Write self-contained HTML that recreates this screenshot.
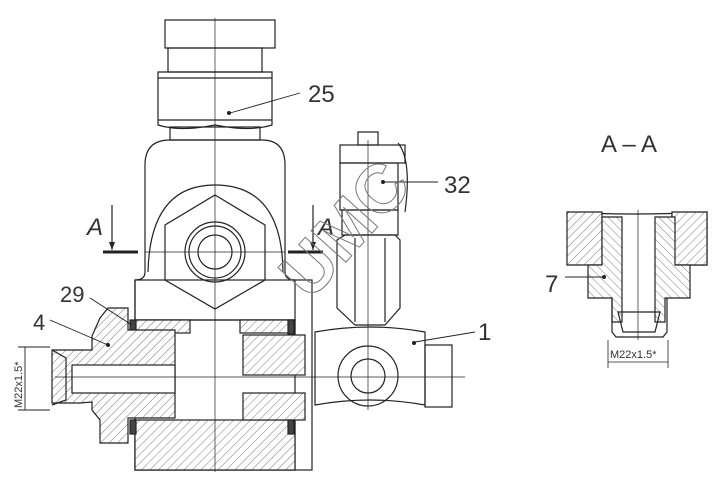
<!DOCTYPE html>
<html><head><meta charset="utf-8"><style>
html,body{margin:0;padding:0;background:#fff;width:724px;height:489px;overflow:hidden}
svg{display:block}
text{font-family:"Liberation Sans",sans-serif}
</style></head><body>
<svg width="724" height="489" viewBox="0 0 724 489" xmlns="http://www.w3.org/2000/svg">
<defs>
<pattern id="h" width="6" height="6" patternUnits="userSpaceOnUse" patternTransform="rotate(45)">
<rect width="6" height="6" fill="#fff"/><line x1="0" y1="0" x2="0" y2="6" stroke="#555" stroke-width="0.8"/></pattern>
<pattern id="h2" width="6" height="6" patternUnits="userSpaceOnUse" patternTransform="rotate(-45)">
<rect width="6" height="6" fill="#fff"/><line x1="0" y1="0" x2="0" y2="6" stroke="#555" stroke-width="0.8"/></pattern>
</defs>
<g fill="none" stroke="#222" stroke-width="1.2">
<rect x="165" y="20" width="110" height="28"/>
<rect x="168" y="48" width="94" height="24"/>
<path d="M158 72 H272 V125 Q250 132 215 125 Q180 132 158 125 Z"/>
<line x1="158" y1="78" x2="272" y2="78"/><line x1="158" y1="120" x2="272" y2="120"/>
<rect x="170" y="127" width="90" height="13"/>
<path d="M145 272 V165 Q145 140 170 140 H262 Q285 140 285 165 V272 Q285 280 295 280 V320 H135 V280 Q145 280 145 272 Z"/>
<path d="M148 272 Q150 185 215 185 Q282 185 283 272"/>
<polygon points="215,195 265,225 265,280 215,309 165,280 165,225"/>
<circle cx="215" cy="252" r="30"/><circle cx="215" cy="252" r="26"/><circle cx="215" cy="252" r="17"/>
<rect x="135" y="280" width="177" height="190"/>
<rect x="135" y="320" width="160" height="150"/>
<rect x="135" y="420" width="160" height="50" fill="url(#h)"/>
<rect x="135" y="320" width="55" height="13" fill="url(#h)"/>
<rect x="240" y="320" width="55" height="13" fill="url(#h)"/>
<rect x="243" y="335" width="62" height="40" fill="url(#h)"/>
<rect x="243" y="393" width="62" height="27" fill="url(#h)"/>
<rect x="130" y="320" width="6" height="14" fill="#444"/>
<rect x="288" y="320" width="6" height="14" fill="#444"/>
<rect x="130" y="420" width="6" height="14" fill="#444"/>
<rect x="288" y="420" width="6" height="14" fill="#444"/>
<path d="M100 318 L108 308 H128 V330 H175 V418 H128 V443 H100 V420 L92 410 V402 L80 403 H52 V350 H80 L92 350 V336 Z" fill="url(#h)"/>
<rect x="72" y="365" width="103" height="28" fill="#fff"/>
<path d="M52 350 L66 358 V400 L52 405"/>
<path d="M315 332 Q370 322 425 332 V405 Q370 395 315 405 Z" fill="#fff"/>
<circle cx="368" cy="376" r="30"/><circle cx="368" cy="376" r="17"/>
<rect x="425" y="345" width="27" height="62"/>
<rect x="358" y="132" width="20" height="13"/>
<rect x="340" y="145" width="65" height="18"/>
<rect x="340" y="163" width="58" height="47"/>
<rect x="342" y="210" width="56" height="25"/>
<path d="M337 240 L345 235 H395 L400 240 V308 L385 325 H355 L337 308 Z"/>
<line x1="355" y1="238" x2="355" y2="322"/><line x1="385" y1="238" x2="385" y2="322"/>
<path d="M398 143 Q412 160 405 212"/>
<g stroke-width="0.7"><line x1="215" y1="18" x2="215" y2="472"/><line x1="145" y1="252" x2="285" y2="252"/>
<line x1="55" y1="377" x2="465" y2="377"/><line x1="368" y1="140" x2="368" y2="410"/></g>
<line x1="103" y1="252" x2="138" y2="252" stroke-width="3"/><line x1="288" y1="252" x2="323" y2="252" stroke-width="3"/>
<line x1="112" y1="205" x2="112" y2="250"/><line x1="313" y1="205" x2="313" y2="250"/>
<g stroke-width="0.9"><line x1="230" y1="113" x2="300" y2="93"/><line x1="383" y1="182" x2="438" y2="182"/>
<line x1="415" y1="342" x2="475" y2="332"/><line x1="132" y1="325" x2="90" y2="298"/><line x1="108" y1="345" x2="50" y2="320"/>
<line x1="25" y1="347" x2="25" y2="410"/><line x1="18" y1="347" x2="50" y2="347"/><line x1="18" y1="410" x2="50" y2="410"/></g>
<path d="M567 212 Q630 216 707 212 V265 H672 V212" />
<path d="M567 212 H602 V265 H567 Z" fill="url(#h)"/>
<path d="M672 212 H707 V265 H672 Z" fill="url(#h)"/>
<path d="M588 265 H602 V217 H622 V322 H612 V298 H588 Z" fill="url(#h2)"/>
<path d="M690 265 H675 V217 H655 V322 H665 V298 H690 Z" fill="url(#h2)"/>
<path d="M612 298 V332 L616 337 H663 L667 332 V298"/>
<path d="M618 312 H660 L655 332 H623 Z"/>
<line x1="638" y1="210" x2="638" y2="340" stroke-width="0.7"/>
<line x1="565" y1="277" x2="602" y2="277" stroke-width="0.9"/>
<line x1="608" y1="340" x2="608" y2="368" stroke-width="0.8"/><line x1="668" y1="340" x2="668" y2="368" stroke-width="0.8"/>
<line x1="608" y1="362" x2="668" y2="362" stroke-width="0.8"/>
</g>
<g fill="#222"><circle cx="229" cy="113" r="2"/><circle cx="383" cy="182" r="2"/><circle cx="414" cy="343" r="2"/><circle cx="108" cy="345" r="2"/><circle cx="604" cy="277" r="2"/>
<polygon points="109,242 115,242 112,250"/><polygon points="310,242 316,242 313,250"/></g>
<g style="fill:#333">
<text x="308" y="102" font-size="24">25</text>
<text x="444" y="193" font-size="24">32</text>
<text x="478" y="340" font-size="24">1</text>
<text x="60" y="302" font-size="22">29</text>
<text x="33" y="330" font-size="22">4</text>
<text x="87" y="235" font-size="24" font-style="italic">A</text>
<text x="318" y="235" font-size="24" font-style="italic">A</text>
<text x="601" y="152" font-size="24">A – A</text>
<text x="545" y="292" font-size="24">7</text>
<text x="610" y="358" font-size="11">M22x1.5*</text>
<text transform="translate(22,408) rotate(-90)" font-size="11">M22x1.5*</text>
</g>
<text transform="translate(310,302) rotate(-48)" font-size="68" font-weight="bold" style="fill:none;stroke:#777;stroke-width:1">UMC</text>
</svg>
</body></html>
